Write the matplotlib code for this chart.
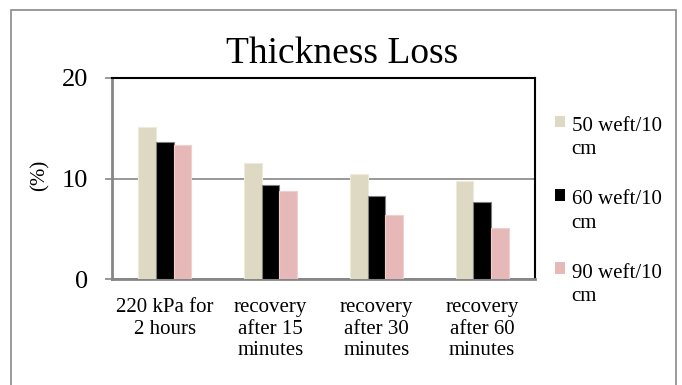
import matplotlib
matplotlib.use("Agg")
import matplotlib.pyplot as plt
import matplotlib.patches as mpatches
from matplotlib.legend_handler import HandlerPatch
import numpy as np

#----------- datos -------------
categorias = ["220 kPa for\n2 hours", "recovery\nafter 15\nminutes",
              "recovery\nafter 30\nminutes", "recovery\nafter 60\nminutes"]
series = ["50 weft/10\ncm", "60 weft/10\ncm", "90 weft/10\ncm"]
w50 = [15.1, 11.5, 10.4, 9.75]
w60 = [13.6, 9.35, 8.3, 7.7]
w90 = [13.3, 8.75, 6.4, 5.1]
colores = ["#DDD9C3", "#000000", "#E6B9B8"]
bordes = ["#EEEBDD", "#7F7F7F", "#F0CFCE"]

plt.rcParams["font.family"] = ["Liberation Serif", "DejaVu Serif"]

fig = plt.figure(figsize=(6.82, 3.85), dpi=100)
ax = fig.add_axes([112/682, 1-279/385, (535-112)/682, (279-78)/385])

x = np.arange(len(categorias))
ancho = 1/6
for i, vals in enumerate([w50, w60, w90]):
    ax.bar(x + (i-1)*ancho, vals, ancho, color=colores[i], edgecolor=bordes[i],
           linewidth=0.8, zorder=3)

ax.set_xlim(-0.5, 3.5)
ax.set_ylim(0, 20)
ax.set_yticks([0, 10, 20])
ax.set_xticks(x)
ax.set_xticklabels(categorias, fontsize=15, linespacing=1.15)
ax.tick_params(axis="x", length=0, pad=14)
ax.tick_params(axis="y", length=5, width=1.2, color="#868686", labelsize=19, pad=12)
ax.yaxis.grid(True, color="#868686", linewidth=1.2, zorder=0)

for s in ["left", "bottom"]:
    ax.spines[s].set_color("#868686")
    ax.spines[s].set_linewidth(2)
for s in ["top", "right"]:
    ax.spines[s].set_color("black")
    ax.spines[s].set_linewidth(1.5)

fig.text(342/682, 1-63/385, "Thickness Loss", fontsize=27, ha="center", va="baseline")
fig.text(40/682, 1-175/385, "(%)", fontsize=15, rotation=90, ha="center", va="center")


def cuadro(legend, orig_handle, xdescent, ydescent, width, height, fontsize):
    return mpatches.Rectangle((-xdescent, -ydescent + 0.78*fontsize), width, height)


proxies = [mpatches.Patch(facecolor=c, edgecolor="none") for c in colores]
leg = ax.legend(proxies, series, loc="upper left", bbox_to_anchor=(555/682, 1-117/385),
                bbox_transform=fig.transFigure, frameon=False, fontsize=15,
                handlelength=0.5, handleheight=0.5, handletextpad=0.3,
                labelspacing=1.5, borderpad=0, borderaxespad=0,
                handler_map={mpatches.Patch: HandlerPatch(patch_func=cuadro)})
for t in leg.get_texts():
    t.set_linespacing(1.3)

# marco exterior
fig.patches.append(mpatches.Rectangle((11/682, -0.05), (676-11)/682, 1.05-10/385,
                   transform=fig.transFigure, fill=False, edgecolor="#898989",
                   linewidth=1.2))

plt.savefig("out.png", dpi=100)
